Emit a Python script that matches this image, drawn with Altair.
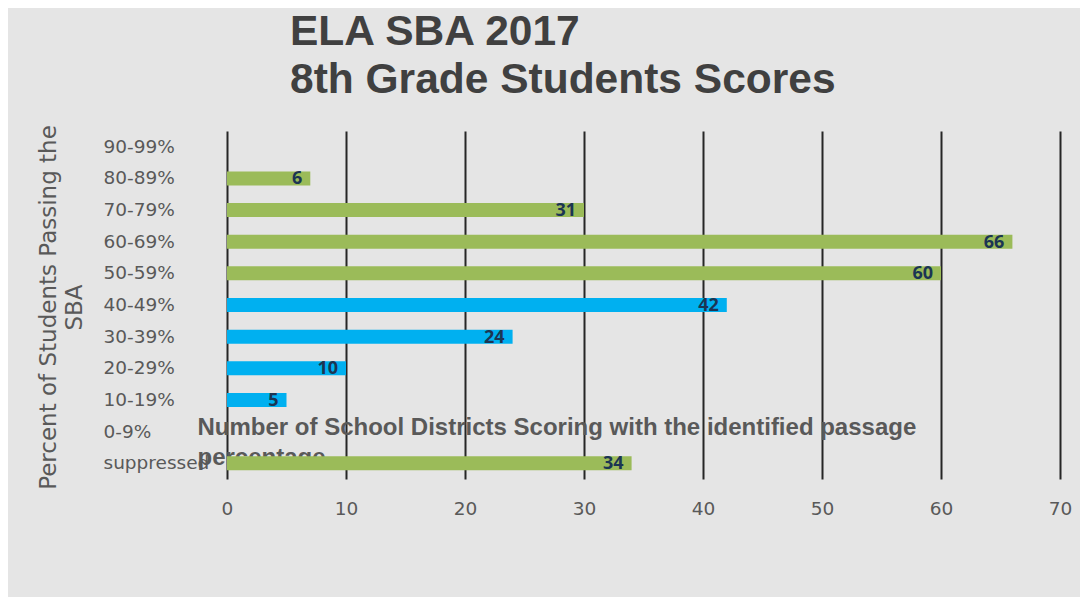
import altair as alt
import pandas as pd

categories = ["90-99%", "80-89%", "70-79%", "60-69%", "50-59%", "40-49%",
              "30-39%", "20-29%", "10-19%", "0-9%", "suppressed"]
bar_values = [0, 7, 30, 66, 60, 42, 24, 10, 5, 0, 34]
label_text = ["", "6", "31", "66", "60", "42", "24", "10", "5", "", "34"]
groups = ["green", "green", "green", "green", "green", "blue",
          "blue", "blue", "blue", "green", "green"]
x_ticks = [0, 10, 20, 30, 40, 50, 60, 70]

df = pd.DataFrame({"cat": categories, "value": bar_values,
                   "label": label_text, "group": groups})

y_enc = alt.Y("cat:N", sort=categories,
              scale=alt.Scale(paddingInner=0, paddingOuter=0),
              axis=alt.Axis(
                  labelAlign="left", labelPadding=124, ticks=False, tickSize=0,
                  domain=False, grid=False, labelFont="DejaVu Sans",
                  labelFontSize=18.5, labelColor="#595959",
                  title=["Percent of Students Passing the", "SBA"],
                  titleFont="DejaVu Sans", titleFontSize=23,
                  titleFontWeight="normal", titleColor="#595959",
                  titleAngle=270, titleBaseline="top", titleAlign="center",
                  titleX=-190, titleY=176, titleLineHeight=26))

x_enc = alt.X("value:Q", scale=alt.Scale(domain=[0, 70], nice=False),
              axis=alt.Axis(
                  values=x_ticks, grid=True, gridColor="#262626", gridWidth=2,
                  domain=False, ticks=False, tickSize=0, labelFlush=False,
                  labelFont="DejaVu Sans", labelFontSize=18.5,
                  labelColor="#595959", labelPadding=20,
                  title=["Number of School Districts Scoring with the identified passage",
                         "percentage"],
                  titleFont="Liberation Sans", titleFontSize=24,
                  titleFontWeight="bold", titleColor="#595959",
                  titleAngle=0, titleAlign="left", titleBaseline="top",
                  titleX=-30, titleY=-64, titleLineHeight=30))

bars = alt.Chart(df).mark_bar(size=14).encode(
    x=x_enc, y=y_enc,
    color=alt.Color("group:N",
                    scale=alt.Scale(domain=["green", "blue"],
                                    range=["#9bbb59", "#00b0f0"]),
                    legend=None))

labels = alt.Chart(df).mark_text(
    align="right", baseline="middle", dx=-8, dy=1, fontWeight="bold",
    fontSize=18, font="Open Sans", color="#1b3553").encode(
    x="value:Q", y=alt.Y("cat:N", sort=categories), text="label:N")

chart = alt.layer(bars, labels).properties(
    width=833, height=348,
    autosize=alt.AutoSizeParams(type="none"),
    padding={"left": 219, "top": 123, "right": 20, "bottom": 118},
    background="#e5e5e5",
    title=alt.TitleParams(["ELA SBA 2017", "8th Grade Students Scores"],
                          anchor="start", frame="group", dx=63, offset=23,
                          fontSize=42.5, font="Liberation Sans",
                          fontWeight="bold", color="#404040", lineHeight=48),
).configure_view(strokeWidth=0)

chart.save("out.html", embed_options={"renderer": "svg", "actions": False})
